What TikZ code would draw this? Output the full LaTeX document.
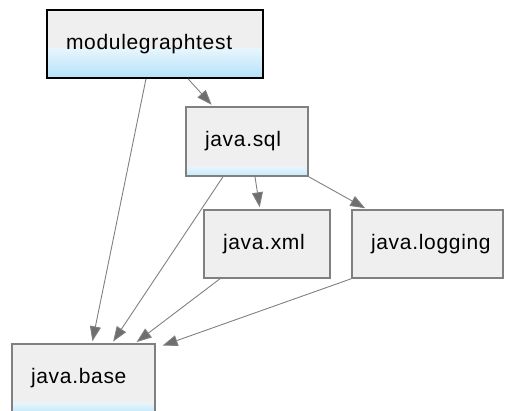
\documentclass[tikz,border=0pt]{standalone}
\usepackage{fontspec}
\setmainfont{Liberation Sans}[LetterSpace=3.3]
\usetikzlibrary{arrows.meta}
\definecolor{boxgray}{HTML}{EFEFEF}
\definecolor{linegray}{HTML}{808080}
\definecolor{tipgray}{HTML}{6E6E6E}
\definecolor{blueA}{HTML}{B4E1F9}
\definecolor{blueB}{HTML}{E8F6FD}
\pgfdeclareverticalshading{topshade}{100bp}{color(0bp)=(blueA); color(25bp)=(blueA); color(47bp)=(blueB); color(47.5bp)=(boxgray); color(100bp)=(boxgray)}
\pgfdeclareverticalshading{stripshade}{100bp}{color(0bp)=(blueA!75!white); color(25bp)=(blueA!75!white); color(32bp)=(blueB); color(32.5bp)=(boxgray); color(100bp)=(boxgray)}
\tikzset{
	module/.style={draw=linegray, line width=1.5pt, fill=boxgray, rectangle, minimum height=68pt, inner xsep=19pt, align=left, font=\fontsize{21}{25}\selectfont},
	dep/.style={draw=linegray, line width=0.9pt, shorten >=2pt, -{Triangle[length=15pt,width=11pt,fill=tipgray]}}
}
\begin{document}
\begin{tikzpicture}[x=1pt,y=-1pt]
	\useasboundingbox (0,0) rectangle (505,410);
	% modules
	\node[module, draw=black, shading=topshade, text width=178pt] (mgt) at (155,44) {modulegraphtest};
	\node[module, shading=stripshade, text width=84pt, minimum height=69pt] (sql) at (247,141.5) {java.sql};
	\node[module, text width=88pt] (xml) at (267,244) {java.xml};
	\node[module, text width=113pt] (logging) at (427.5,244) {java.logging};
	\node[module, shading=stripshade, text width=105pt] (base) at (83.5,378) {java.base};
	% requires
	\draw[dep] ([xshift=33pt]mgt.south) -- ([xshift=-34pt]sql.north);
	\draw[dep] ([xshift=-9pt]mgt.south) -- ([xshift=8.5pt]base.north);
	\draw[dep] ([xshift=-24pt]sql.south) -- ([xshift=28.5pt]base.north);
	\draw[dep] ([xshift=8pt]sql.south) -- ([xshift=-7pt]xml.north);
	\draw[dep] (sql.south east) -- ([xshift=-60.5pt]logging.north);
	\draw[dep] ([xshift=-47pt]xml.south) -- ([xshift=51.5pt]base.north);
	\draw[dep] (logging.south west) -- ([xshift=5pt,yshift=-3pt]base.north east);
\end{tikzpicture}
\end{document}
